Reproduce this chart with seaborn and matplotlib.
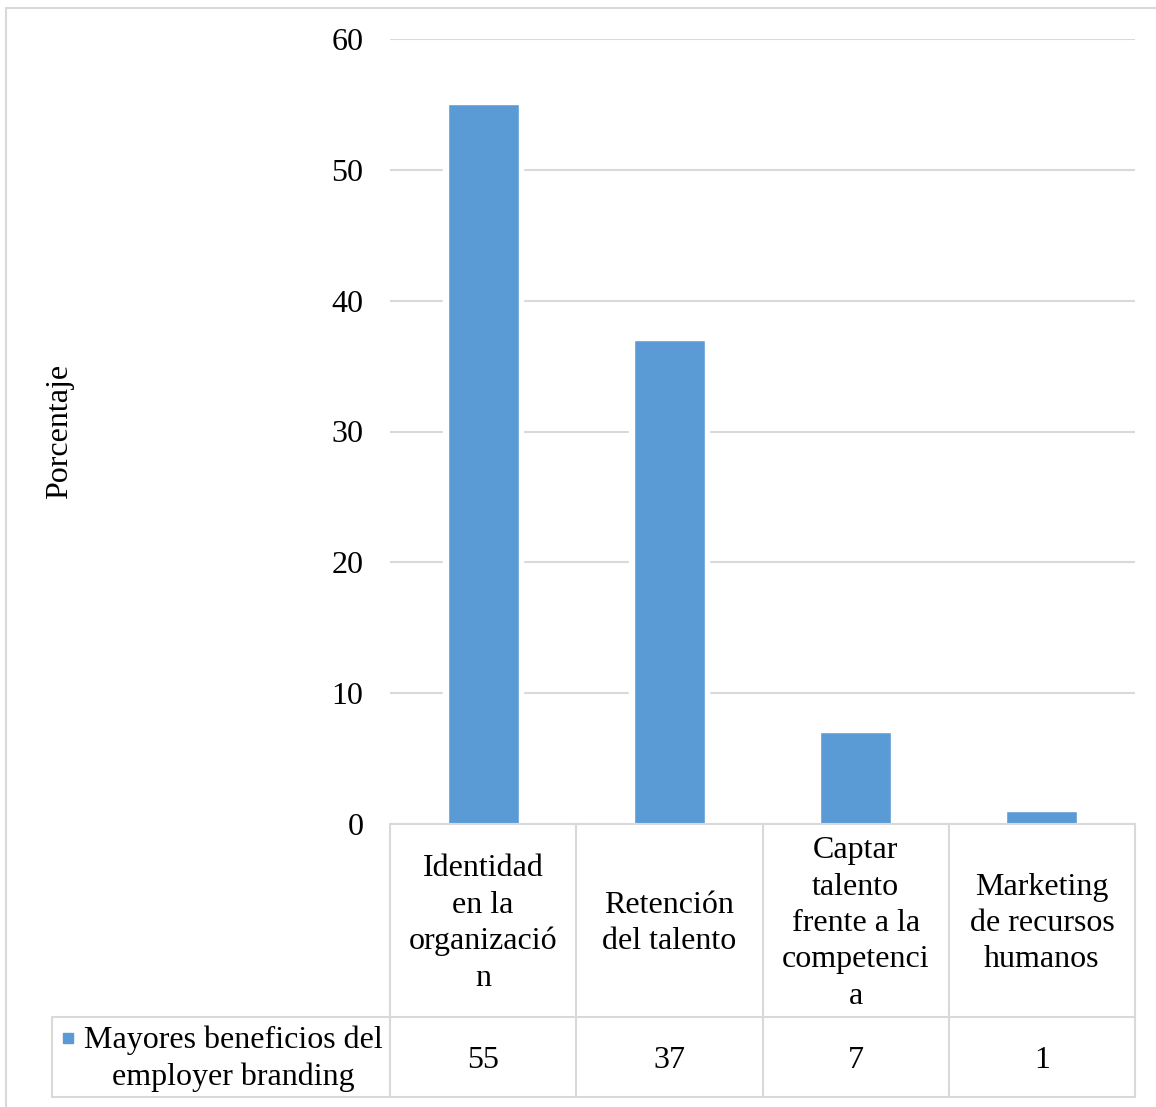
import matplotlib
matplotlib.use("Agg")
import matplotlib.pyplot as plt
import matplotlib.patches as mpatches
from matplotlib.transforms import blended_transform_factory
import seaborn as sns
import pandas as pd

# Data
categories = ["Identidad en la organización", "Retención del talento",
              "Captar talento frente a la competencia", "Marketing de recursos humanos"]
category_labels = ["Identidad\nen la\norganizació\nn", "Retención\ndel talento",
                   "Captar\ntalento\nfrente a la\ncompetenci\na", "Marketing\nde recursos\nhumanos"]
values = [55, 37, 7, 1]
series_name = "Mayores beneficios del\nemployer branding"
y_ticks = [0, 10, 20, 30, 40, 50, 60]

BAR = "#5B9BD5"
GRID = "#D9D9D9"
FONT = "Liberation Serif"
FS = 23
LS = 1.33

sns.set_theme(style="white")
plt.rcParams["font.family"] = [FONT, "DejaVu Sans"]
plt.rcParams["text.color"] = "black"

W, H = 1156, 1107
fig = plt.figure(figsize=(W / 100, H / 100), dpi=100)

# chart-area frame (only the top and left edges fall inside the image)
fig.patches.append(mpatches.Rectangle((6 / W, -0.2), 1.2, 1.2 - 8 / H, transform=fig.transFigure,
                                      fill=False, edgecolor=GRID, linewidth=1.5))

ax_l, ax_r, ax_t, ax_b = 390, 1135, 39, 824
ax = fig.add_axes([ax_l / W, 1 - ax_b / H, (ax_r - ax_l) / W, (ax_b - ax_t) / H])

df = pd.DataFrame({"cat": categories, "val": values})
# white halo behind the bars keeps gridlines clear of the bar sides
sns.barplot(data=df, x="cat", y="val", color="white", width=0.43, saturation=1,
            ax=ax, zorder=2)
sns.barplot(data=df, x="cat", y="val", color=BAR, width=0.38, saturation=1,
            ax=ax, zorder=3)

ax.set_ylim(0, 60)
ax.set_xlim(-0.5, len(categories) - 0.5)
ax.set_yticks(y_ticks)
ax.set_yticklabels([str(t) for t in y_ticks], fontsize=FS, family=FONT, color="black")
ax.tick_params(axis="y", length=0, pad=19)
ax.tick_params(axis="x", length=0, labelbottom=False)
ax.set_xlabel("")
ax.set_ylabel("")
ax.yaxis.grid(True, color=GRID, linewidth=1.5, zorder=1)
ax.set_axisbelow(True)
for s in ax.spines.values():
    s.set_visible(False)

fig.text(60 / W, 1 - ((ax_t + ax_b) / 2) / H, "Porcentaje", rotation=90,
         ha="center", va="center", fontsize=FS, family=FONT, color="black")

# data table under the axis: x in category units, y in axes fraction
tr = blended_transform_factory(ax.transData, ax.transAxes)
axh = ax_b - ax_t
col_w = (ax_r - ax_l) / len(categories)
x_lab = -0.5 - (ax_l - 52) / col_w
x_end = len(categories) - 0.5
y_head = -(1017 - ax_b) / axh
y_bot = -(1097 - ax_b) / axh
nudge = 3 / axh

line_kw = dict(color=GRID, linewidth=1.5, transform=tr, clip_on=False, zorder=5)
ax.plot([-0.5, x_end], [0, 0], **line_kw)
ax.plot([x_lab, x_end], [y_head, y_head], **line_kw)
ax.plot([x_lab, x_end], [y_bot, y_bot], **line_kw)
ax.plot([x_lab, x_lab], [y_head, y_bot], **line_kw)
for i in range(len(categories) + 1):
    ax.plot([i - 0.5, i - 0.5], [0, y_bot], **line_kw)

for i, (lab, v) in enumerate(zip(category_labels, values)):
    ax.text(i, y_head / 2 - nudge, lab, transform=tr, ha="center", va="center",
            fontsize=FS, family=FONT, color="black", linespacing=LS)
    ax.text(i, (y_head + y_bot) / 2 - 4 / axh, str(v), transform=tr, ha="center",
            va="center", fontsize=FS, family=FONT, color="black")

# series key in the row-label cell
fig.text(233 / W, 1 - 1059 / H, series_name, ha="center", va="center",
         fontsize=FS, family=FONT, color="black", linespacing=LS)
fig.patches.append(mpatches.Rectangle((63 / W, 1 - 1043 / H), 10 / W, 10 / H,
                                      transform=fig.transFigure, color=BAR))

fig.savefig("out.png", dpi=100)
